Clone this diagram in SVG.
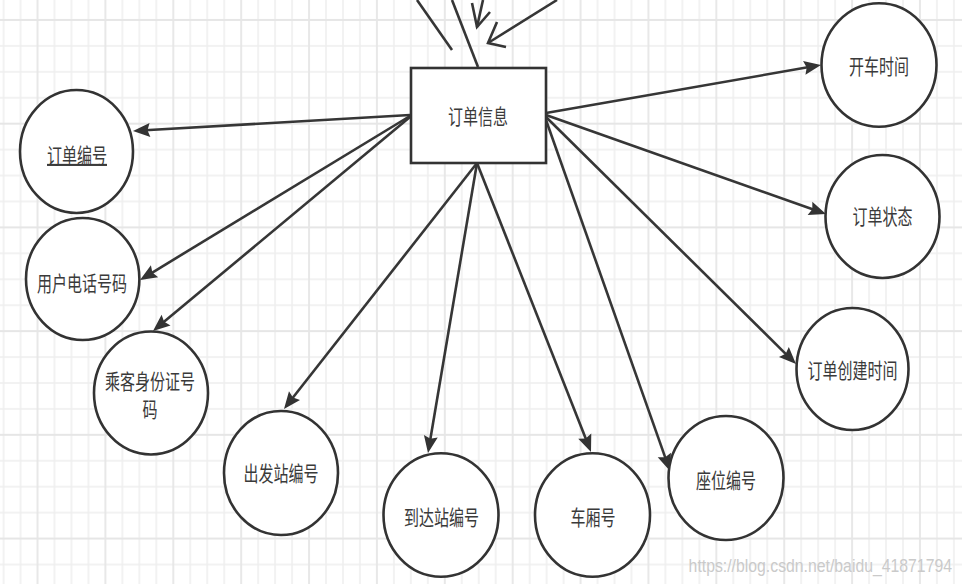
<svg xmlns="http://www.w3.org/2000/svg" width="962" height="584" viewBox="0 0 962 584">
  <style>
    .node { fill: #ffffff; stroke: #333333; stroke-width: 2.6; }
    .lbl { font-family: "Noto Sans CJK SC", "Noto Sans", sans-serif; font-size: 15px; fill: #3a3a3a; text-anchor: middle; }
    .edge { fill: none; stroke: #363636; stroke-width: 2.6; stroke-linecap: butt; }
    .edge-a { marker-end: url(#arr); }
    .open { fill: none; stroke: #363636; stroke-width: 2.6; stroke-linejoin: miter; }
    .gmin { stroke: #eeeeee; stroke-width: 1.5; }
    .gmaj { stroke: #e6e6e6; stroke-width: 1.8; }
  </style>
  <defs>
    <pattern id="grid" patternUnits="userSpaceOnUse" x="-4.4" y="10" width="67.88" height="103.72">
      <line class="gmin" x1="8" y1="0" x2="8" y2="103.72"/>
      <line class="gmin" x1="24.97" y1="0" x2="24.97" y2="103.72"/>
      <line class="gmin" x1="58.91" y1="0" x2="58.91" y2="103.72"/>
      <line class="gmin" x1="0" y1="35.93" x2="67.88" y2="35.93"/>
      <line class="gmin" x1="0" y1="61.86" x2="67.88" y2="61.86"/>
      <line class="gmin" x1="0" y1="87.79" x2="67.88" y2="87.79"/>
      <line class="gmaj" x1="41.94" y1="0" x2="41.94" y2="103.72"/>
      <line class="gmaj" x1="0" y1="10" x2="67.88" y2="10"/>
    </pattern>
    <marker id="arr" markerUnits="userSpaceOnUse" markerWidth="20" markerHeight="18" refX="5" refY="7.5" orient="auto" overflow="visible">
      <path d="M0,0.5 L17,7.5 L0,14.5 L2.5,7.5 Z" fill="#333333"/>
    </marker>
  </defs>

  <rect x="0" y="0" width="962" height="584" fill="#ffffff"/>
  <rect x="0" y="0" width="962" height="584" fill="url(#grid)"/>

  <g id="connectors">
    <line class="edge" x1="417" y1="0" x2="452" y2="50"/>
    <line class="edge" x1="452" y1="0" x2="478" y2="67"/>
    <line class="edge" x1="483" y1="0" x2="477" y2="27"/>
    <polyline class="open" points="472,3 477,27 490,12"/>
    <line class="edge" x1="557" y1="0" x2="488" y2="43"/>
    <polyline class="open" points="497,22 488,43 506,47"/>

    <line class="edge edge-a" x1="410" y1="115" x2="144.98" y2="130.31"/>
    <line class="edge edge-a" x1="410" y1="116" x2="150.26" y2="273.77"/>
    <line class="edge edge-a" x1="410" y1="117" x2="162.22" y2="323.32"/>
    <line class="edge edge-a" x1="477" y1="163" x2="291.41" y2="399.56"/>
    <line class="edge edge-a" x1="477" y1="163" x2="430" y2="441.17"/>
    <line class="edge edge-a" x1="477" y1="163" x2="586.6" y2="440.84"/>
    <line class="edge edge-a" x1="546" y1="120" x2="666" y2="459.69"/>
    <line class="edge edge-a" x1="546" y1="117" x2="787.46" y2="355.57"/>
    <line class="edge edge-a" x1="546" y1="115" x2="814.69" y2="210"/>
    <line class="edge edge-a" x1="546" y1="113" x2="809.18" y2="67.06"/>
  </g>

  <g id="order-info">
    <rect class="node" x="411" y="68" width="135" height="95"/>
    <text class="lbl" transform="translate(478,116) scale(1,1.4)" y="5.5">订单信息</text>
  </g>

  <g id="order-no">
    <ellipse class="node" cx="76.5" cy="151.5" rx="56.5" ry="61.5"/>
    <text class="lbl" transform="translate(77,155) scale(1,1.4)" y="5.5" text-decoration="underline">订单编号</text>
  </g>

  <g id="user-phone">
    <ellipse class="node" cx="82.7" cy="279" rx="56.7" ry="61"/>
    <text class="lbl" transform="translate(82,283) scale(1,1.4)" y="5.5">用户电话号码</text>
  </g>

  <g id="passenger-id">
    <ellipse class="node" cx="151" cy="393" rx="57" ry="61.5"/>
    <text class="lbl" transform="translate(150,381.7) scale(1,1.4)" y="5.5">乘客身份证号</text>
    <text class="lbl" transform="translate(150,409) scale(1,1.4)" y="5.5">码</text>
  </g>

  <g id="departure-station">
    <ellipse class="node" cx="281" cy="473" rx="57" ry="62"/>
    <text class="lbl" transform="translate(281,473) scale(1,1.4)" y="5.5">出发站编号</text>
  </g>

  <g id="arrival-station">
    <ellipse class="node" cx="441" cy="515" rx="57.5" ry="61.7"/>
    <text class="lbl" transform="translate(441.5,517) scale(1,1.4)" y="5.5">到达站编号</text>
  </g>

  <g id="carriage-no">
    <ellipse class="node" cx="592.5" cy="515" rx="57.5" ry="61.7"/>
    <text class="lbl" transform="translate(593,517) scale(1,1.4)" y="5.5">车厢号</text>
  </g>

  <g id="seat-no">
    <ellipse class="node" cx="726" cy="478" rx="57.5" ry="62"/>
    <text class="lbl" transform="translate(726,480) scale(1,1.4)" y="5.5">座位编号</text>
  </g>

  <g id="order-created">
    <ellipse class="node" cx="852.5" cy="369" rx="56" ry="61"/>
    <text class="lbl" transform="translate(852.5,370) scale(1,1.4)" y="5.5">订单创建时间</text>
  </g>

  <g id="order-status">
    <ellipse class="node" cx="882.5" cy="216.5" rx="57" ry="61.5"/>
    <text class="lbl" transform="translate(882.5,216.5) scale(1,1.4)" y="5.5">订单状态</text>
  </g>

  <g id="departure-time">
    <ellipse class="node" cx="879" cy="65" rx="57.5" ry="61.7"/>
    <text class="lbl" transform="translate(879,66) scale(1,1.4)" y="5.5">开车时间</text>
  </g>

  <text transform="translate(952,572) scale(1,1.15)" font-family="Liberation Sans, Arial, sans-serif" font-size="15.8" fill="#cacaca" text-anchor="end">https://blog.csdn.net/baidu_41871794</text>
</svg>
